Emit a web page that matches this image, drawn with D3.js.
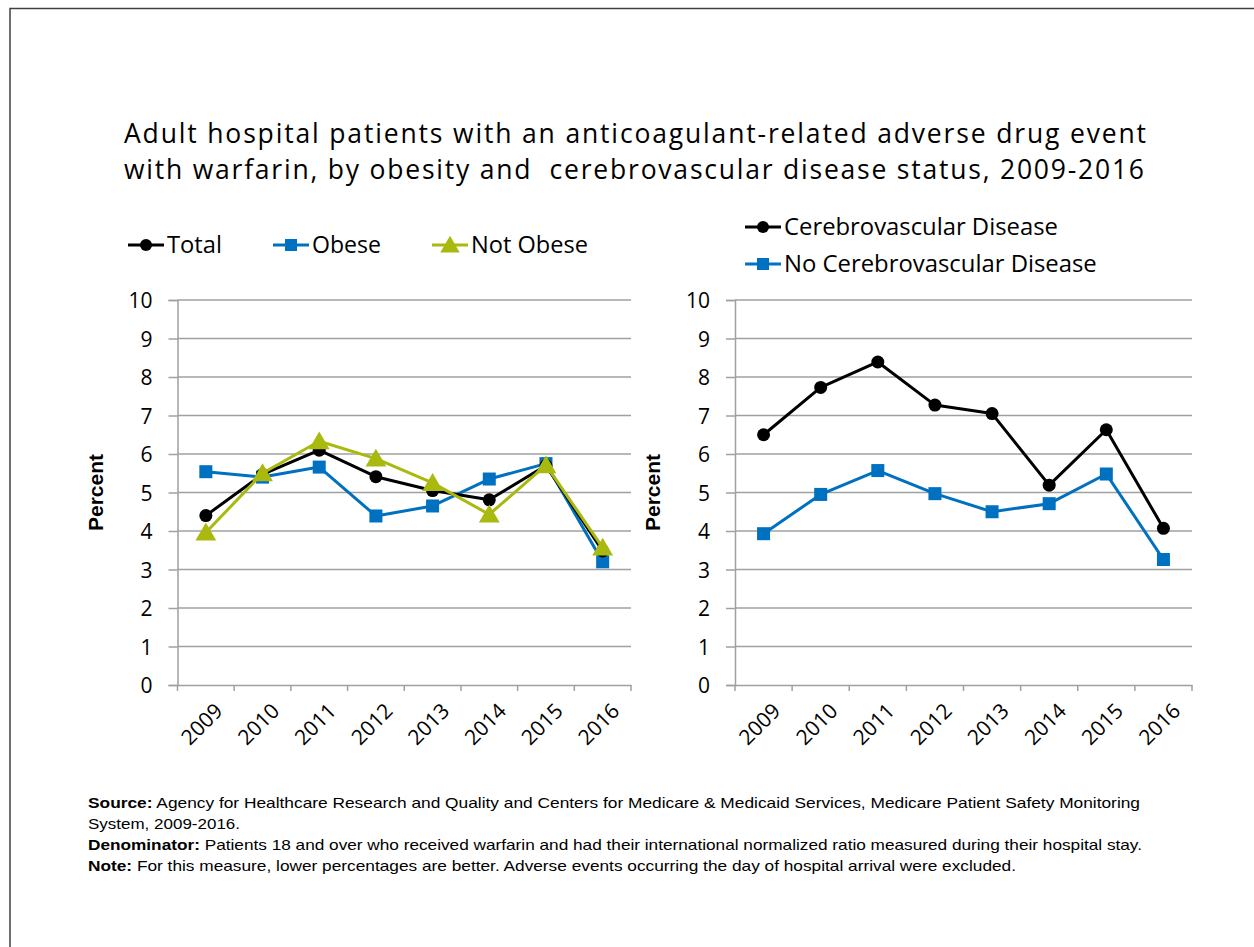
<!DOCTYPE html>
<html><head><meta charset="utf-8">
<script src="https://cdn.jsdelivr.net/npm/d3@7"></script>
<style>
body{margin:0;background:#fff;}
svg{display:block;}
</style></head>
<body>
<svg id="chart" width="1254" height="947"></svg>
<script>
const years = ["2009","2010","2011","2012","2013","2014","2015","2016"];
const yTicks = [0,1,2,3,4,5,6,7,8,9,10];
const total = [4.40, 5.47, 6.10, 5.41, 5.05, 4.81, 5.70, 3.48];
const obese = [5.54, 5.40, 5.66, 4.39, 4.65, 5.35, 5.75, 3.20];
const notObese = [3.96, 5.50, 6.33, 5.88, 5.25, 4.43, 5.71, 3.57];
const cerebro = [6.50, 7.73, 8.39, 7.27, 7.05, 5.19, 6.63, 4.07];
const noCerebro = [3.93, 4.95, 5.57, 4.97, 4.50, 4.71, 5.48, 3.26];

const titleLines = ["Adult hospital patients with an anticoagulant-related adverse drug event",
                    "with warfarin, by obesity and  cerebrovascular disease status, 2009-2016"];
const notes = [
  [["Source:", true], [" Agency for Healthcare Research and Quality and Centers for Medicare & Medicaid Services, Medicare Patient Safety Monitoring", false]],
  [["System, 2009-2016.", false]],
  [["Denominator:", true], [" Patients 18 and over who received warfarin and had their international normalized ratio measured during their hospital stay.", false]],
  [["Note:", true], [" For this measure, lower percentages are better. Adverse events occurring the day of hospital arrival were excluded.", false]]
];

const BLACK = "#000000", BLUE = "#0070C0", OLIVE = "#A9B910";
const svg = d3.select("#chart");
const FONT = "'Open Sans', Lato, 'DejaVu Sans', sans-serif";
const NOTEFONT = "'Liberation Sans', Arial, sans-serif";

function fitWidth(sel, w){
  const fs = +sel.attr("font-size");
  const len = sel.node().getComputedTextLength();
  sel.attr("font-size", fs * w / len);
}

svg.append("path").attr("d","M10,947 L10,8.5 L1254,8.5").attr("fill","none").attr("stroke","#404040").attr("stroke-width",1.5);

// title: fixed size, spread letters to match width
const titleWidths = [1022, 1020];
svg.append("g").selectAll("text").data(titleLines).join("text")
  .attr("x",124).attr("y",(d,i)=>143 + i*36)
  .attr("font-family",FONT).attr("font-size",26.5).attr("fill","#000")
  .style("white-space","pre")
  .text(d=>d)
  .each(function(d,i){
    const len = this.getComputedTextLength();
    d3.select(this).attr("letter-spacing", (titleWidths[i]-len)/(d.length-1));
  });

function symbol(g, type, color, size){
  if(type==="circle") g.append("circle").attr("r",size*0.5).attr("fill",color);
  else if(type==="square") g.append("rect").attr("x",-size/2).attr("y",-size/2).attr("width",size).attr("height",size).attr("fill",color);
  else if(type==="triangle") g.append("path").attr("d",`M0,${-size*0.62}L${size*0.65},${size*0.5}L${-size*0.65},${size*0.5}Z`).attr("fill",color);
}

function panel(x0, x1, series){
  const y = d3.scaleLinear().domain([0,10]).range([685,300]);
  const x = d3.scaleBand().domain(years).range([x0,x1]);
  const g = svg.append("g");
  g.append("g").selectAll("line").data(yTicks.slice(1)).join("line")
    .attr("x1",x0).attr("x2",x1).attr("y1",d=>y(d)).attr("y2",d=>y(d))
    .attr("stroke","#A0A0A0").attr("stroke-width",1.5);
  const ya = g.append("g").attr("transform",`translate(${x0},0)`)
    .call(d3.axisLeft(y).tickValues(yTicks).tickSize(9).tickPadding(16).tickFormat(d3.format("d")));
  ya.select(".domain").attr("stroke","#A0A0A0").attr("stroke-width",1.5);
  ya.selectAll(".tick line").attr("stroke","#A0A0A0").attr("stroke-width",1.5);
  ya.selectAll("text").attr("font-family",FONT).attr("font-size",21).attr("fill","#000").attr("dy","0.36em");
  const xa = g.append("g").attr("transform",`translate(0,${y(0)})`)
    .call(d3.axisBottom(x).tickSize(0).tickFormat(""));
  xa.select(".domain").attr("stroke","#A0A0A0").attr("stroke-width",1.5);
  const bounds = years.map(d=>x(d)).concat([x1]);
  g.append("g").selectAll("line").data(bounds).join("line")
    .attr("x1",d=>d).attr("x2",d=>d).attr("y1",y(0)).attr("y2",y(0)+6)
    .attr("stroke","#A0A0A0").attr("stroke-width",1.5);
  g.append("g").selectAll("text").data(years).join("text")
    .attr("transform",d=>`translate(${x(d)+x.bandwidth()/2+13},${y(0)+22}) rotate(-45)`)
    .attr("text-anchor","end").attr("dy","0.35em")
    .attr("font-family",FONT).attr("font-size",21).attr("fill","#000").text(d=>d);
  g.append("text").attr("transform",`translate(${x0-75},${y(5)}) rotate(-90)`)
    .attr("text-anchor","middle").attr("font-family",NOTEFONT)
    .attr("font-weight","bold").attr("font-size",21).text("Percent");
  series.forEach(s=>{
    const line = d3.line().x((d,i)=>x(years[i])+x.bandwidth()/2).y(d=>y(d));
    g.append("path").datum(s.values).attr("d",line).attr("fill","none")
      .attr("stroke",s.color).attr("stroke-width",3).attr("stroke-linejoin","round");
    s.values.forEach((v,i)=>{
      const m = g.append("g").attr("transform",`translate(${x(years[i])+x.bandwidth()/2},${y(v)})`);
      symbol(m, s.sym, s.color, s.sym==="triangle"?16:13);
    });
  });
}

panel(177.5, 631, [
  {values: obese, color: BLUE, sym:"square"},
  {values: total, color: BLACK, sym:"circle"},
  {values: notObese, color: OLIVE, sym:"triangle"}
]);
panel(735, 1192, [
  {values: cerebro, color: BLACK, sym:"circle"},
  {values: noCerebro, color: BLUE, sym:"square"}
]);

function legendItem(x, y, color, sym, label, w){
  const g = svg.append("g").attr("transform",`translate(${x},${y})`);
  g.append("line").attr("x1",0).attr("x2",36).attr("stroke",color).attr("stroke-width",3);
  const m = g.append("g").attr("transform","translate(18,0)");
  symbol(m, sym, color, sym==="triangle"?15:12);
  const t = g.append("text").attr("x",39).attr("dy","0.35em").attr("font-family",FONT)
    .attr("font-size",22).attr("fill","#000").text(label);
  fitWidth(t, w);
}
legendItem(128, 245, BLACK, "circle", "Total", 55);
legendItem(273, 245, BLUE, "square", "Obese", 69);
legendItem(432, 245, OLIVE, "triangle", "Not Obese", 117);
legendItem(745, 227, BLACK, "circle", "Cerebrovascular Disease", 274);
legendItem(745, 264, BLUE, "square", "No Cerebrovascular Disease", 313);

const noteWidths = [1052, 152, 1054, 928];
const nt = svg.append("g");
notes.forEach((line,i)=>{
  const t = nt.append("text").attr("x",88).attr("y",808 + i*21)
    .attr("font-family",NOTEFONT).attr("font-size",14.5).attr("fill","#000")
    .attr("textLength", noteWidths[i]).attr("lengthAdjust","spacingAndGlyphs");
  line.forEach(([s,b])=>{
    t.append("tspan").attr("font-weight",b?"bold":"normal").text(s);
  });
});
</script>
</body></html>
